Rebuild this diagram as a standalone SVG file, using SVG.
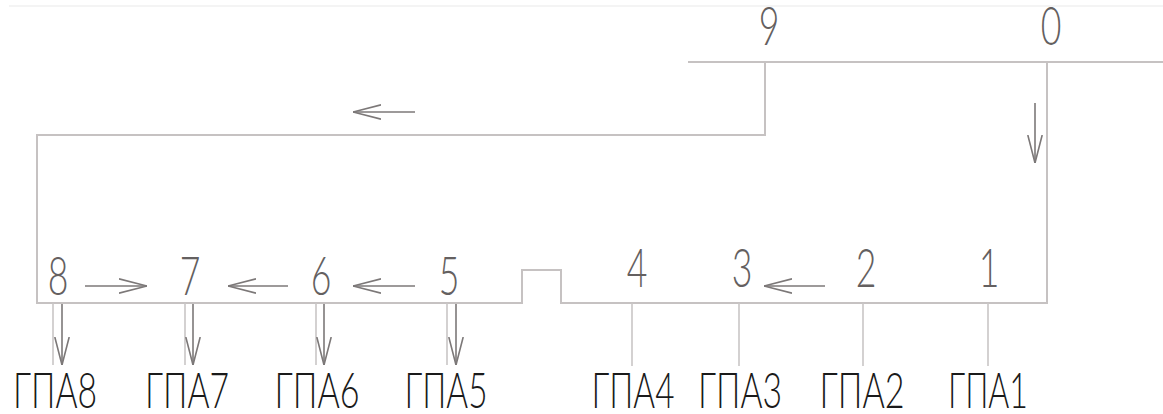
<svg xmlns="http://www.w3.org/2000/svg" width="1163" height="414" viewBox="0 0 1163 414">
  <defs>
    <style>
      .pipe { fill: none; stroke: #c6c2c2; stroke-width: 2; }
      .drop { fill: none; stroke: #c9c6c6; stroke-width: 1.6; }
      .flow { fill: none; stroke: #7c7878; stroke-width: 1.6; marker-end: url(#head); }
      .num { font-family: Lato, "Liberation Sans", sans-serif; font-weight: 300; font-size: 54px; fill: #646060; text-anchor: middle; }
      .gpa { font-family: Lato, "Liberation Sans", sans-serif; font-weight: 300; font-size: 49px; fill: #1a1a1a; text-anchor: middle; }
    </style>
    <marker id="head" viewBox="0 0 28 16" refX="28" refY="8" markerWidth="28" markerHeight="16" markerUnits="userSpaceOnUse" orient="auto">
      <path d="M0,0.8 L28,8 L0,15.2" fill="none" stroke="#7c7878" stroke-width="1.6"/>
    </marker>
  </defs>

  <rect width="1163" height="414" fill="#ffffff"/>
  <line x1="9" y1="6" x2="1163" y2="6" stroke="#f1f1f1" stroke-width="1.5"/>

  <!-- pipeline -->
  <g id="pipeline">
    <line class="pipe" x1="688" y1="62" x2="1163" y2="62"/>
    <polyline class="pipe" points="765,62 765,135 37,135 37,303 522,303 522,270 561,270 561,303 1047,303 1047,62"/>
  </g>

  <!-- flow arrows and branch drops -->
  <g id="connectors">
    <line class="flow" x1="1035" y1="103" x2="1035" y2="163"/>
    <line class="flow" x1="415" y1="112" x2="353" y2="112"/>
    <line class="flow" x1="85" y1="286" x2="147" y2="286"/>
    <line class="flow" x1="288" y1="286" x2="228" y2="286"/>
    <line class="flow" x1="415" y1="286" x2="353" y2="286"/>
    <line class="flow" x1="825" y1="286" x2="764" y2="286"/>

    <line class="drop" x1="53" y1="303" x2="53" y2="365"/>
    <line class="drop" x1="185" y1="303" x2="185" y2="365"/>
    <line class="drop" x1="316" y1="303" x2="316" y2="365"/>
    <line class="drop" x1="447" y1="303" x2="447" y2="365"/>
    <line class="flow" x1="62" y1="304" x2="62" y2="365"/>
    <line class="flow" x1="193" y1="304" x2="193" y2="365"/>
    <line class="flow" x1="324" y1="304" x2="324" y2="365"/>
    <line class="flow" x1="456" y1="304" x2="456" y2="365"/>

    <line class="drop" x1="632" y1="303" x2="632" y2="366"/>
    <line class="drop" x1="739" y1="303" x2="739" y2="366"/>
    <line class="drop" x1="863" y1="303" x2="863" y2="366"/>
    <line class="drop" x1="988" y1="303" x2="988" y2="366"/>
  </g>

  <!-- point numbers -->
  <g id="p9"><text class="num" transform="translate(769,45) scale(0.66,1)">9</text></g>
  <g id="p0"><text class="num" transform="translate(1051,45) scale(0.66,1)">0</text></g>
  <g id="p8"><text class="num" transform="translate(58,295) scale(0.66,1)">8</text></g>
  <g id="p7"><text class="num" transform="translate(190,295) scale(0.66,1)">7</text></g>
  <g id="p6"><text class="num" transform="translate(321,295) scale(0.66,1)">6</text></g>
  <g id="p5"><text class="num" transform="translate(449,295) scale(0.66,1)">5</text></g>
  <g id="p4"><text class="num" transform="translate(637,287) scale(0.66,1)">4</text></g>
  <g id="p3"><text class="num" transform="translate(742,287) scale(0.66,1)">3</text></g>
  <g id="p2"><text class="num" transform="translate(866,287) scale(0.66,1)">2</text></g>
  <g id="p1"><text class="num" transform="translate(989,287) scale(0.66,1)">1</text></g>

  <!-- gas pumping units -->
  <g id="gpa8"><text class="gpa" x="55" y="408" textLength="84" lengthAdjust="spacingAndGlyphs">ГПА8</text></g>
  <g id="gpa7"><text class="gpa" x="187" y="408" textLength="84" lengthAdjust="spacingAndGlyphs">ГПА7</text></g>
  <g id="gpa6"><text class="gpa" x="317" y="408" textLength="85" lengthAdjust="spacingAndGlyphs">ГПА6</text></g>
  <g id="gpa5"><text class="gpa" x="446" y="408" textLength="83" lengthAdjust="spacingAndGlyphs">ГПА5</text></g>
  <g id="gpa4"><text class="gpa" x="633" y="408" textLength="83" lengthAdjust="spacingAndGlyphs">ГПА4</text></g>
  <g id="gpa3"><text class="gpa" x="740" y="408" textLength="84" lengthAdjust="spacingAndGlyphs">ГПА3</text></g>
  <g id="gpa2"><text class="gpa" x="862" y="408" textLength="85" lengthAdjust="spacingAndGlyphs">ГПА2</text></g>
  <g id="gpa1"><text class="gpa" x="988" y="408" textLength="80" lengthAdjust="spacingAndGlyphs">ГПА1</text></g>
</svg>
